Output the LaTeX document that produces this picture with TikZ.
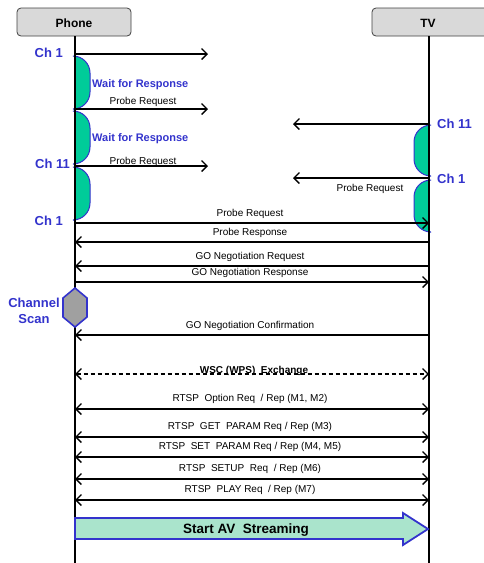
\documentclass[tikz,border=0pt]{standalone}
\usepackage{fontspec}
\setmainfont{Liberation Sans}
\usetikzlibrary{arrows.meta}
\definecolor{lblue}{RGB}{51,51,204}
\definecolor{bumpgreen}{RGB}{0,204,153}
\definecolor{avgreen}{RGB}{170,228,204}
\definecolor{boxgray}{RGB}{217,217,217}
\definecolor{hexgray}{RGB}{160,160,160}
\begin{document}
\begin{tikzpicture}[x=1pt,y=-1pt,
  hdr/.style={draw=black!75,fill=boxgray,rounded corners=4pt,line width=0.8pt},
  hdrtxt/.style={font=\fontsize{12}{14}\selectfont\bfseries,anchor=base,inner sep=0},
  life/.style={line width=1.3pt},
  msg/.style={line width=1.3pt,-{Straight Barb[length=5.5pt,width=11pt,line width=1.4pt]}},
  bmsg/.style={line width=1.3pt,{Straight Barb[length=5.5pt,width=11pt,line width=1.4pt]}-{Straight Barb[length=5.5pt,width=11pt,line width=1.4pt]}},
  lbl/.style={font=\fontsize{10}{12}\selectfont,anchor=base,inner sep=0},
  chlbl/.style={font=\fontsize{13}{15}\selectfont\bfseries,text=lblue,inner sep=0},
  waitlbl/.style={font=\fontsize{11}{13}\selectfont\bfseries,text=lblue,anchor=base west,inner sep=0},
  bump/.style={fill=bumpgreen,draw=lblue,line width=1pt,rounded corners=17pt}]
\useasboundingbox (0,0) rectangle (483,563);
% headers
\draw[hdr] (17,8) rectangle (131,36);
\node[hdrtxt] (phone) at (74,27) {Phone};
\draw[hdr] (372,8) rectangle (490,36);
\node[hdrtxt] (tv) at (428,27) {TV};
% bumps
\draw[bump] (75,56) -- (90,56) -- (90,109) -- (75,109);
\draw[bump] (75,111) -- (90,111) -- (90,164) -- (75,164);
\draw[bump] (75,167) -- (90,167) -- (90,220) -- (75,220);
\draw[bump] (429,125) -- (414,125) -- (414,176) -- (429,176);
\draw[bump] (429,180) -- (414,180) -- (414,232) -- (429,232);
% lifelines
\coordinate (ptop) at (75,36); \coordinate (pbot) at (75,563);
\coordinate (ttop) at (429,36); \coordinate (tbot) at (429,563);
\draw[life] (ptop) -- (pbot);
\draw[life] (ttop) -- (tbot);
% channel labels
\node[chlbl,anchor=base east] (ch1a) at (63,57) {Ch 1};
\node[chlbl,anchor=base east] (ch11a) at (70,168) {Ch 11};
\node[chlbl,anchor=base east] (ch1b) at (63,225) {Ch 1};
\node[chlbl,anchor=base west] (ch11b) at (437,128) {Ch 11};
\node[chlbl,anchor=base west] (ch1c) at (437,183) {Ch 1};
\node[waitlbl] (w1) at (92,87) {Wait for Response};
\node[waitlbl] (w2) at (92,141) {Wait for Response};
% probe bursts
\coordinate (a1s) at (75,54); \coordinate (a1e) at (208,54);
\draw[msg] (a1s) -- (a1e);
\coordinate (a2s) at (75,109); \coordinate (a2e) at (208,109);
\draw[msg] (a2s) -- (a2e);
\node[lbl] (l2) at (143,104) {Probe Request};
\coordinate (a3s) at (75,166); \coordinate (a3e) at (208,166);
\draw[msg] (a3s) -- (a3e);
\node[lbl] (l3) at (143,164) {Probe Request};
\coordinate (b1s) at (429,124); \coordinate (b1e) at (293,124);
\draw[msg] (b1s) -- (b1e);
\coordinate (b2s) at (429,178); \coordinate (b2e) at (293,178);
\draw[msg] (b2s) -- (b2e);
\node[lbl] (lb2) at (370,191) {Probe Request};
% exchanges
\foreach \y/\t/\d in {223/Probe Request/1, 242/Probe Response/0, 266/GO Negotiation Request/0, 282/GO Negotiation Response/1, 335/GO Negotiation Confirmation/0}{
  \coordinate (pl\y) at (75,\y); \coordinate (tl\y) at (429,\y);
  \ifnum\d=1 \draw[msg] (pl\y) -- (tl\y); \else \draw[msg] (tl\y) -- (pl\y); \fi
  \node[lbl] (lab\y) at (250,\y-6.5) {\t};
}
% channel scan
\draw[fill=hexgray,draw=lblue,line width=1.6pt] (75,288) -- (87,298) -- (87,317) -- (75,327) -- (63,317) -- (63,298) -- cycle;
\node[chlbl,anchor=base] (chs1) at (34,307) {Channel};
\node[chlbl,anchor=base] (chs2) at (34,323) {Scan};
% WSC
\coordinate (pw) at (75,374); \coordinate (tw) at (429,374);
\draw[bmsg,dash pattern=on 4pt off 3pt] (pw) -- (tw);
\node[lbl,font=\fontsize{10}{12}\selectfont\bfseries] (wsc) at (254,373) {WSC (WPS)\ \ Exchange};
% RTSP
\foreach \y/\t in {409/{RTSP\ \ Option Req\ \ / Rep (M1, M2)}, 437/{RTSP\ \ GET\ \ PARAM Req / Rep (M3)}, 457/{RTSP\ \ SET\ \ PARAM Req / Rep (M4, M5)}, 479/{RTSP\ \ SETUP\ \ Req\ \ / Rep (M6)}, 500/{RTSP\ \ PLAY Req\ \ / Rep (M7)}}{
  \coordinate (pr\y) at (75,\y); \coordinate (tr\y) at (429,\y);
  \draw[bmsg] (pr\y) -- (tr\y);
  \node[lbl] (rl\y) at (250,\y-7.5) {\t};
}
% Start AV streaming
\draw[fill=avgreen,draw=lblue,line width=1.8pt] (75,518) -- (403,518) -- (403,513) -- (428,529) -- (403,545) -- (403,539) -- (75,539) -- cycle;
\node[font=\fontsize{13.5}{15}\selectfont\bfseries,anchor=base,inner sep=0] (av) at (246,533) {Start AV\ \ Streaming};
\end{tikzpicture}
\end{document}
